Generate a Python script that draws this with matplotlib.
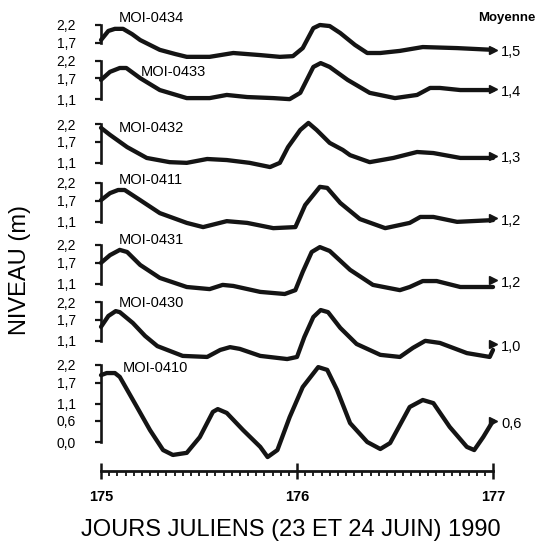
import matplotlib
matplotlib.use("Agg")
import matplotlib.pyplot as plt
from matplotlib.ticker import FixedLocator, MultipleLocator

plt.rcParams["font.family"] = ["Liberation Sans", "DejaVu Sans"]

# ---------------------------------------------------------------- data
# time in hours after day 175.0, water level in metres
stations = ["MOI-0434", "MOI-0433", "MOI-0432", "MOI-0411",
            "MOI-0431", "MOI-0430", "MOI-0410"]

hours_0434 = [0, 0.9, 1.7, 2.7, 3.8, 4.8, 6.0, 7.2, 9.1, 10.5, 13.3, 16.2, 19.5,
              21.9, 23.5, 24.7, 26.0, 26.8, 28.0, 29.3, 31.1, 32.6, 34.2, 36.6,
              39.4, 43.6, 48.0]
level_0434 = [1.77, 2.03, 2.09, 2.09, 1.94, 1.77, 1.63, 1.49, 1.37, 1.29, 1.29,
              1.40, 1.34, 1.29, 1.31, 1.54, 2.11, 2.20, 2.17, 1.97, 1.63, 1.40,
              1.40, 1.46, 1.57, 1.54, 1.49]

hours_0433 = [0, 1.1, 2.3, 3.1, 4.8, 7.2, 10.5, 13.3, 15.4, 17.9, 21.1, 23.1,
              24.4, 26.0, 26.9, 28.0, 30.2, 32.9, 36.0, 38.7, 40.3, 41.5, 44.0,
              48.0]
level_0433 = [1.66, 1.89, 2.00, 2.00, 1.71, 1.37, 1.14, 1.14, 1.23, 1.17, 1.14,
              1.11, 1.29, 2.03, 2.14, 2.03, 1.66, 1.29, 1.14, 1.23, 1.43, 1.43,
              1.37, 1.37]

hours_0432 = [0, 1.1, 3.2, 5.6, 8.4, 10.5, 13.0, 15.4, 18.2, 20.7, 21.9, 22.9,
              24.4, 25.4, 26.4, 28.0, 29.6, 30.5, 32.9, 35.8, 38.7, 40.7, 44.0,
              48.0]
level_0432 = [2.09, 1.89, 1.54, 1.23, 1.11, 1.09, 1.20, 1.17, 1.09, 0.97, 1.09,
              1.54, 2.03, 2.23, 2.03, 1.66, 1.46, 1.31, 1.11, 1.23, 1.40, 1.37,
              1.23, 1.23]

hours_0411 = [0, 1.1, 2.1, 2.9, 4.8, 7.2, 10.5, 12.5, 15.4, 17.9, 21.1, 23.8,
              25.0, 26.8, 27.7, 29.3, 31.7, 34.8, 37.8, 39.1, 40.7, 43.6, 48.0]
level_0411 = [1.71, 1.91, 2.00, 2.00, 1.71, 1.34, 1.06, 0.94, 1.11, 1.06, 0.91,
              0.94, 1.57, 2.09, 2.06, 1.63, 1.17, 0.91, 1.06, 1.23, 1.23, 1.09,
              1.14]

hours_0431 = [0, 1.1, 2.3, 3.2, 4.8, 7.2, 10.5, 13.3, 14.9, 16.2, 19.5, 22.5,
              23.8, 24.7, 25.8, 26.8, 28.0, 30.5, 33.3, 36.6, 37.8, 39.4, 41.1,
              44.0, 48.0]
level_0431 = [1.69, 1.91, 2.06, 2.00, 1.63, 1.26, 1.00, 0.94, 1.06, 1.03, 0.86,
              0.80, 0.91, 1.43, 2.00, 2.14, 2.03, 1.49, 1.06, 0.91, 1.00, 1.17,
              1.17, 1.00, 1.00]

hours_0430 = [0, 0.9, 1.8, 2.3, 3.9, 5.4, 6.9, 10.0, 13.0, 14.6, 15.8, 17.0,
              19.5, 22.8, 24.0, 24.9, 26.0, 26.9, 27.8, 29.3, 31.3, 34.2, 36.6,
              38.2, 39.7, 41.5, 44.8, 47.6, 48.0]
level_0430 = [1.49, 1.80, 1.94, 1.91, 1.60, 1.23, 0.94, 0.66, 0.63, 0.83, 0.91,
              0.86, 0.66, 0.57, 0.63, 1.20, 1.77, 1.97, 1.91, 1.46, 1.00, 0.69,
              0.63, 0.89, 1.09, 1.03, 0.74, 0.63, 0.83]

hours_0410 = [0, 0.7, 1.7, 2.3, 4.4, 6.0, 7.6, 8.8, 10.5, 12.1, 13.7, 14.3, 15.4,
              17.4, 19.5, 20.4, 21.6, 23.1, 24.7, 26.6, 27.7, 28.9, 30.5, 32.6,
              34.2, 35.4, 37.8, 39.4, 40.7, 42.7, 44.8, 45.7, 46.8, 48.0]
level_0410 = [1.91, 1.97, 1.97, 1.86, 1.00, 0.34, -0.23, -0.37, -0.31, 0.14,
              0.86, 0.94, 0.83, 0.34, -0.14, -0.43, -0.23, 0.71, 1.57, 2.14,
              2.06, 1.49, 0.54, 0.00, -0.20, -0.03, 1.00, 1.20, 1.11, 0.43,
              -0.14, -0.23, 0.14, 0.60]

hours = [hours_0434, hours_0433, hours_0432, hours_0411,
         hours_0431, hours_0430, hours_0410]
levels = [level_0434, level_0433, level_0432, level_0411,
          level_0431, level_0430, level_0410]

means = [1.5, 1.4, 1.3, 1.2, 1.2, 1.0, 0.6]
mean_labels = ["1,5", "1,4", "1,3", "1,2", "1,2", "1,0", "0,6"]

yticks = [[2.2, 1.7], [2.2, 1.7, 1.1], [2.2, 1.7, 1.1], [2.2, 1.7, 1.1],
          [2.2, 1.7, 1.1], [2.2, 1.7, 1.1], [2.2, 1.7, 1.1, 0.6, 0.0]]

day_start = 175
day_ticks = [175, 176, 177]

# ---------------------------------------------------------------- layout
W, H = 543, 544
X0, X1 = 101, 493              # pixel span of days 175..177
PPM = 35.0                      # pixels per metre in each strip
top_px = [25, 61, 124, 183, 245, 302, 365]   # pixel row of the 2.2 m level
name_pos = [(175.09, 2.40), (175.205, 1.89), (175.09, 2.09), (175.09, 2.29),
            (175.09, 2.34), (175.09, 2.17), (175.11, 2.11)]
LO, HI = -1.2, 2.7
INK = "#141414"

fig = plt.figure(figsize=(W / 100, H / 100), dpi=100)


def rect(top, bottom):
    return [X0 / W, 1 - bottom / H, (X1 - X0) / W, (bottom - top) / H]


def fmt(v):
    return f"{v:.1f}".replace(".", ",")


for i, name in enumerate(stations):
    y22 = top_px[i]
    top = y22 - (HI - 2.2) * PPM
    bot = y22 + (2.2 - LO) * PPM
    ax = fig.add_axes(rect(top, bot))
    ax.patch.set_visible(False)
    ax.set_xlim(day_start, day_start + 2)
    ax.set_ylim(LO, HI)
    for s in ("top", "right", "bottom"):
        ax.spines[s].set_visible(False)
    ax.spines["left"].set_linewidth(1.9)
    ax.spines["left"].set_color(INK)
    ax.spines["left"].set_bounds(min(yticks[i]), max(yticks[i]))
    ax.yaxis.set_major_locator(FixedLocator(yticks[i]))
    ax.set_yticklabels([fmt(v) for v in yticks[i]])
    ax.tick_params(axis="y", direction="out", length=4, width=1.6,
                   color=INK, pad=14, labelsize=10)
    ax.tick_params(axis="x", bottom=False, labelbottom=False)

    t = [day_start + h / 24 for h in hours[i]]
    ax.plot(t, levels[i], color=INK, lw=3.1, solid_joinstyle="round",
            solid_capstyle="round", clip_on=False)
    ax.plot([day_start + 2], [means[i]], marker=">", ms=6, color=INK,
            clip_on=False)
    ax.annotate(mean_labels[i], (day_start + 2, means[i]), xytext=(6, -2),
                textcoords="offset points", ha="left", va="center",
                fontsize=10.5, annotation_clip=False)
    ax.text(name_pos[i][0], name_pos[i][1], name, ha="left", va="center",
            fontsize=10.5)

# time axis
axx = fig.add_axes([X0 / W, 1 - 471 / H, (X1 - X0) / W, 1 / H])
axx.patch.set_visible(False)
axx.set_xlim(day_start, day_start + 2)
for s in ("top", "right", "left"):
    axx.spines[s].set_visible(False)
axx.spines["bottom"].set_linewidth(2.0)
axx.spines["bottom"].set_color(INK)
axx.set_yticks([])
axx.xaxis.set_major_locator(FixedLocator(day_ticks))
axx.set_xticklabels([str(d) for d in day_ticks])
axx.xaxis.set_minor_locator(MultipleLocator(1 / 24))
axx.tick_params(axis="x", which="major", direction="inout", length=11,
                width=1.8, color=INK, pad=8, labelsize=10.5)
axx.tick_params(axis="x", which="minor", direction="out", length=3.5,
                width=1.3, color=INK)
for lab in axx.get_xticklabels():
    lab.set_fontweight("bold")

fig.text(291 / W, 1 - 530 / H, "JOURS JULIENS (23 ET 24 JUIN) 1990",
         ha="center", va="center", fontsize=17)
fig.text(20 / W, 1 - 270 / H, "NIVEAU (m)", rotation=90,
         ha="center", va="center", fontsize=17)
fig.text(507 / W, 1 - 18 / H, "Moyenne", ha="center", va="center",
         fontsize=9.5, fontweight="bold")

fig.savefig("out.png", dpi=100)
